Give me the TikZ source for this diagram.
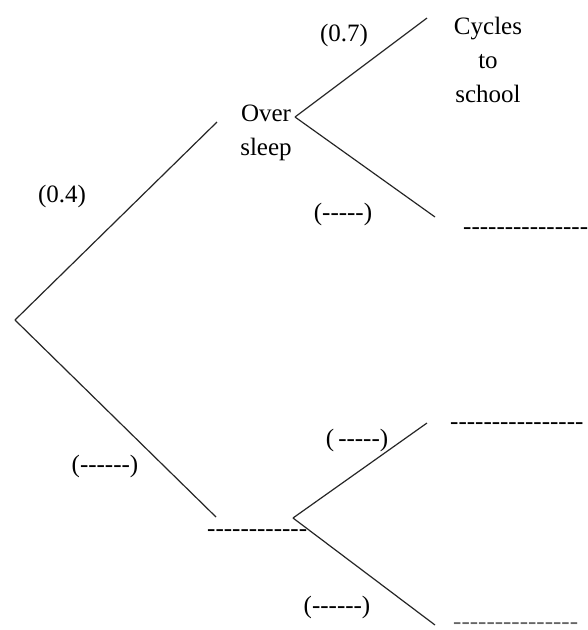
\documentclass[tikz,border=0pt]{standalone}
\usepackage{fontspec}
\setmainfont{Liberation Serif}[Ligatures=TeXOff]
\begin{document}
\begin{tikzpicture}[x=1pt,y=-1pt,
  branch/.style={line width=1.2pt, black!85},
  lbl/.style={inner sep=0pt, font=\fontsize{25}{34}\selectfont, align=center},
  blank/.style={inner sep=0pt, anchor=west, font=\fontsize{25}{34}\selectfont}]
\useasboundingbox[fill=white] (0,0) rectangle (588,630);

% tree nodes (branch points and branch ends)
\coordinate (root) at (15,320);
\coordinate (upEnd) at (217,122);
\coordinate (loEnd) at (216,517);
\coordinate (upFork) at (295,117);
\coordinate (loFork) at (293,518);
\coordinate (uuEnd) at (427,18);
\coordinate (ulEnd) at (435,217);
\coordinate (luEnd) at (427,423);
\coordinate (llEnd) at (435,625);

% first stage
\draw[branch] (root) -- (upEnd);
\draw[branch] (root) -- (loEnd);
% second stage
\draw[branch] (upFork) -- (uuEnd);
\draw[branch] (upFork) -- (ulEnd);
\draw[branch] (loFork) -- (luEnd);
\draw[branch] (loFork) -- (llEnd);

% outcome labels
\node[lbl] (over) at (266,133) {Over\\sleep};
\node[lbl] (cycles) at (488,60) {Cycles\\to\\school};
\node[blank] (blankA) at (463,231) {---------------};
\node[blank] (blankB) at (207,533) {------------};
\node[blank] (blankC) at (450,426) {----------------};
\node[blank, black!60] (blankD) at (453,626) {---------------};

% probability labels
\node[lbl] (pA) at (62,196) {(0.4)};
\node[lbl] (pB) at (105,466) {(------)};
\node[lbl] (pC) at (344,35) {(0.7)};
\node[lbl] (pD) at (343,214) {(-----)};
\node[lbl] (pE) at (357,440) {(\,-----)};
\node[lbl] (pF) at (337,607) {(------)};
\end{tikzpicture}
\end{document}
